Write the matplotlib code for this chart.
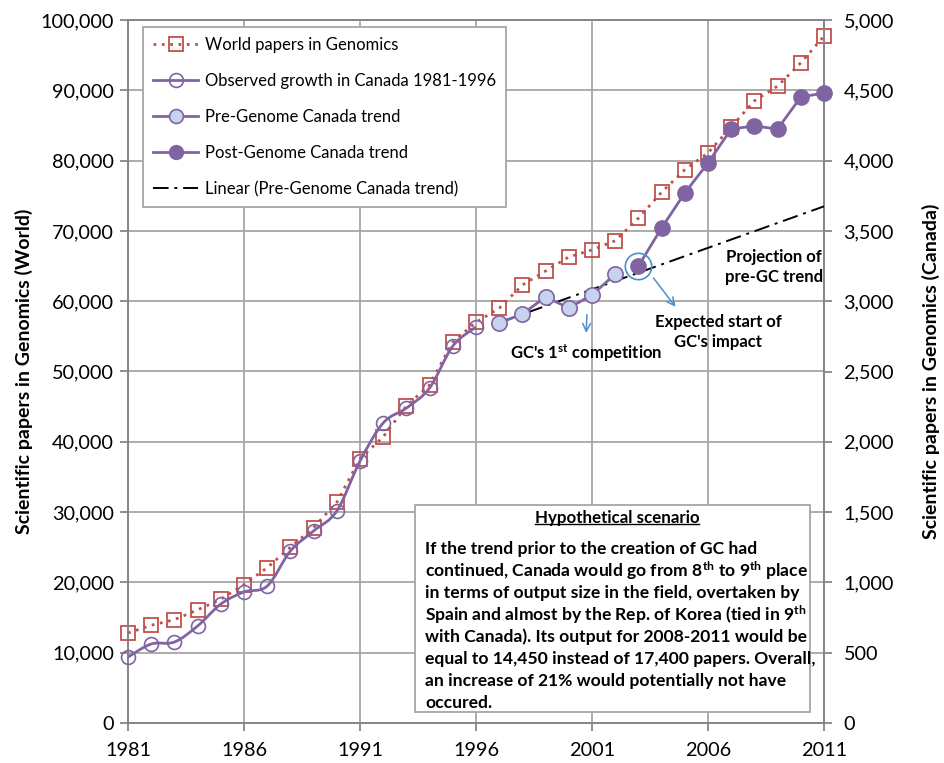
import numpy as np
import matplotlib
matplotlib.use("Agg")
import matplotlib.pyplot as plt
from matplotlib.path import Path
from matplotlib.patches import PathPatch, Rectangle
from matplotlib.lines import Line2D
from matplotlib.ticker import FuncFormatter, MultipleLocator

plt.rcParams['font.family'] = ['Lato', 'DejaVu Sans']
plt.rcParams['mathtext.fontset'] = 'custom'
plt.rcParams['mathtext.rm'] = 'Lato:bold'
plt.rcParams['mathtext.bf'] = 'Lato:bold'
plt.rcParams['mathtext.it'] = 'Lato:bold'

# data
years = list(range(1981, 2012))
world_papers = [12800, 13900, 14700, 16100, 17600, 19700, 22100, 25000, 27800, 31400,
                37600, 40700, 45100, 48100, 54200, 57000, 59000, 62300, 64300, 66300,
                67300, 68600, 71800, 75500, 78700, 81100, 84800, 88500, 90600, 93900, 97700]

obs_years = list(range(1981, 1997))
canada_obs = [469, 562, 576, 690, 846, 932, 974, 1223, 1366, 1508,
              1863, 2134, 2240, 2383, 2681, 2817]

pre_years = list(range(1997, 2003))
canada_pre = [2845, 2909, 3030, 2952, 3044, 3193]

post_years = list(range(2003, 2012))
canada_post = [3250, 3521, 3770, 3983, 4225, 4246, 4225, 4452, 4481]

x_ticks = [1981, 1986, 1991, 1996, 2001, 2006, 2011]
trend_end = 2011

RED = '#C0504D'
PURPLE = '#8064A2'
LIGHT = '#C6D2EE'
BLUE = '#4A8FD0'
GRID = '#A6A6A6'


def smooth_path(x, y):
    pts = np.column_stack([x, y]).astype(float)
    n = len(pts)
    verts = [pts[0]]
    codes = [Path.MOVETO]
    for i in range(n - 1):
        p0 = pts[i - 1] if i > 0 else pts[i]
        p1 = pts[i]
        p2 = pts[i + 1]
        p3 = pts[i + 2] if i + 2 < n else pts[i + 1]
        verts += [p1 + (p2 - p0) / 6, p2 - (p3 - p1) / 6, p2]
        codes += [Path.CURVE4] * 3
    return Path(verts, codes)


fig = plt.figure(figsize=(9.45, 7.63), dpi=100)
ax1 = fig.add_axes([128 / 945, 1 - 723 / 763, 696 / 945, 703 / 763])
ax2 = ax1.twinx()

# world series
ax1.plot(years, world_papers, color=RED, lw=2, ls=(0, (1, 2)),
         marker='s', ms=10, mfc='none', mec=RED, mew=1.3, clip_on=False, zorder=3)

ax1.set_xlim(1981, 2011)
ax1.set_ylim(0, 100000)
ax1.set_xticks(x_ticks)
ax1.yaxis.set_major_locator(MultipleLocator(10000))
ax1.yaxis.set_major_formatter(FuncFormatter(lambda v, p: f"{int(v):,}"))
ax1.grid(True, color=GRID, lw=1.3)
ax1.set_axisbelow(True)

ax2.set_ylim(0, 5000)
ax2.yaxis.set_major_locator(MultipleLocator(500))
ax2.yaxis.set_major_formatter(FuncFormatter(lambda v, p: f"{int(v):,}"))

for ax in (ax1, ax2):
    for s in ax.spines.values():
        s.set_color('#868686')
        s.set_linewidth(1.3)
    ax.tick_params(colors='#868686', labelcolor='black', labelsize=14.3, length=6, width=1.3)
ax1.tick_params(axis='x', pad=8)
ax1.tick_params(axis='y', pad=4)
ax2.tick_params(axis='y', pad=8)

# canada observed (smoothed line)
ax2.add_patch(PathPatch(smooth_path(obs_years, canada_obs), fc='none', ec=PURPLE, lw=2, zorder=3))
ax2.plot(obs_years, canada_obs, ls='none', marker='o', ms=10, mfc='none', mec=PURPLE,
         mew=1.2, clip_on=False, zorder=4)

# trend line of pre-GC values
fit = np.polyfit(pre_years, canada_pre, 1)
tx = np.array([pre_years[0], trend_end])
ax2.plot(tx, np.polyval(fit, tx), color='black', lw=1.4, ls=(0, (8, 3, 1.5, 3)), zorder=3)

ax2.plot(pre_years, canada_pre, color=PURPLE, lw=2, marker='o', ms=11, mfc=LIGHT,
         mec=PURPLE, mew=1.2, zorder=5)
ax2.plot(post_years, canada_post, color=PURPLE, lw=2, marker='o', ms=11, mfc=PURPLE,
         mec=PURPLE, clip_on=False, zorder=5)

# annotations
ax2.plot(post_years[0], canada_post[0], marker='o', ms=19, mfc='none', mec=BLUE, mew=1.2, zorder=6)
arrow = dict(arrowstyle='->', color=BLUE, lw=1.1, mutation_scale=14, shrinkA=0, shrinkB=0)
ax2.annotate('', xy=(2004.6, 2960), xytext=(2003.65, 3165), arrowprops=arrow)
ax2.annotate('', xy=(2000.75, 2774), xytext=(2000.78, 2905), arrowprops=arrow)

ax2.text(2008.85, 3243, 'Projection of\npre-GC trend', ha='center', va='center',
         fontsize=12, fontweight='bold', linespacing=1.25)
ax2.text(2006.43, 2781, "Expected start of\nGC's impact", ha='center', va='center',
         fontsize=12, fontweight='bold', linespacing=1.25)
ax2.text(2000.74, 2632, "GC's 1$^{st}$ competition", ha='center', va='center',
         fontsize=12, fontweight='bold')

ax1.set_ylabel('Scientific papers in Genomics (World)', fontsize=14, fontweight='bold')
ax1.yaxis.set_label_coords(-0.136, 0.5)
ax2.set_ylabel('Scientific papers in Genomics (Canada)', fontsize=14, fontweight='bold')
ax2.yaxis.set_label_coords(1.141, 0.5)

# legend
handles = [
    Line2D([], [], color=RED, lw=2, ls=(0, (1, 2)), marker='s', ms=10, mfc='none', mec=RED, mew=1.3),
    Line2D([], [], color=PURPLE, lw=2, marker='o', ms=10, mfc='none', mec=PURPLE, mew=1.2),
    Line2D([], [], color=PURPLE, lw=2, marker='o', ms=10, mfc=LIGHT, mec=PURPLE, mew=1.2),
    Line2D([], [], color=PURPLE, lw=2, marker='o', ms=10, mfc=PURPLE, mec=PURPLE),
    Line2D([], [], color='black', lw=1.4, ls=(0, (8, 3, 1.5, 3))),
]
labels = ['World papers in Genomics', 'Observed growth in Canada 1981-1996',
          'Pre-Genome Canada trend', 'Post-Genome Canada trend',
          'Linear (Pre-Genome Canada trend)']
leg = ax2.legend(handles, labels, loc='upper left', bbox_to_anchor=(0.0216, 0.990),
                 borderaxespad=0, fontsize=12, frameon=True, fancybox=False,
                 framealpha=1, edgecolor=GRID, handlelength=2.7, handletextpad=0.4,
                 labelspacing=1.2, borderpad=0.6)
leg.get_frame().set_linewidth(1.3)
leg.set_zorder(10)

# hypothetical scenario box
box = Rectangle((0.4124, 0.0156), 0.5676, 0.2945, transform=ax2.transAxes,
                fc='white', ec=GRID, lw=1.3, zorder=11)
ax2.add_patch(box)
title = ax2.text(0.7026, 0.2916, 'Hypothetical scenario', transform=ax2.transAxes,
                 ha='center', va='center', fontsize=12.2, fontweight='bold', zorder=12)
body = [
    'If the trend prior to the creation of GC had',
    'continued, Canada would go from 8$^{th}$ to 9$^{th}$ place',
    'in terms of output size in the field, overtaken by',
    'Spain and almost by the Rep. of Korea (tied in 9$^{th}$',
    'with Canada). Its output for 2008-2011 would be',
    'equal to 14,450 instead of 17,400 papers. Overall,',
    'an increase of 21% would potentially not have',
    'occured.',
]
for i, line in enumerate(body):
    ax2.text(0.4267, 0.2475 - i * 22 / 703, line, transform=ax2.transAxes,
             ha='left', va='center', fontsize=12.6, fontweight='bold', zorder=12)

fig.canvas.draw()
bb = title.get_window_extent().transformed(fig.transFigure.inverted())
fig.add_artist(Line2D([bb.x0, bb.x1], [bb.y0 + 0.002, bb.y0 + 0.002], color='black', lw=1, zorder=13))

fig.savefig('out.png', dpi=100)
